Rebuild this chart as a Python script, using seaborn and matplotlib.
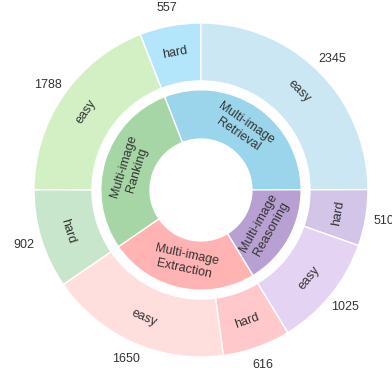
import numpy as np
import matplotlib
matplotlib.use("Agg")
import matplotlib.pyplot as plt
import seaborn as sns

# Task categories (inner ring) and their difficulty split (outer ring)
categories = ["Multi-image\nRetrieval", "Multi-image\nReasoning",
              "Multi-image\nExtraction", "Multi-image\nRanking"]
hard_counts = [557, 510, 616, 902]
easy_counts = [2345, 1025, 1650, 1788]

inner_colors = ["#9ad5eb", "#b9a0d2", "#ffb3b3", "#a6d6a6"]
hard_colors = ["#b3e5fb", "#d3c5e8", "#ffc9cc", "#c8e6cb"]
easy_colors = ["#cbe7f4", "#e5d3f3", "#ffdede", "#d3f0c5"]

sns.set_theme(style="white")
plt.rcParams["font.family"] = ["Liberation Sans", "DejaVu Sans"]
text_color = "#333333"

outer_vals, outer_labels, outer_colors = [], [], []
for h, e, hc, ec in zip(hard_counts, easy_counts, hard_colors, easy_colors):
    outer_vals += [h, e]
    outer_labels += ["hard", "easy"]
    outer_colors += [hc, ec]
inner_vals = [h + e for h, e in zip(hard_counts, easy_counts)]

total = sum(inner_vals)
start = 90 + hard_counts[0] / total * 360

fig = plt.figure(figsize=(3.92, 3.76), dpi=100)
ax = fig.add_axes([0.0015, -0.0383, 1.0224, 1.066])

wp = dict(edgecolor="white", linewidth=1)
outer_wedges, _ = ax.pie(outer_vals, radius=1.0, colors=outer_colors,
                         startangle=start, counterclock=False,
                         wedgeprops=dict(width=0.347, **wp))
inner_wedges, _ = ax.pie(inner_vals, radius=0.6, colors=inner_colors,
                         startangle=start, counterclock=False,
                         wedgeprops=dict(width=0.295, **wp))
ax.set_xlim(-1.2, 1.2)
ax.set_ylim(-1.2, 1.2)
ax.set_aspect("equal")
ax.axis("off")


def upright(angle):
    a = (angle + 180) % 360 - 180
    return a - 90 if np.sin(np.deg2rad(a)) >= 0 else a + 90


for w, lab, val in zip(outer_wedges, outer_labels, outer_vals):
    mid = (w.theta1 + w.theta2) / 2
    rad = np.deg2rad(mid)
    ax.text(0.835 * np.cos(rad), 0.835 * np.sin(rad), lab,
            rotation=upright(mid), rotation_mode="anchor",
            ha="center", va="center", fontsize=9, color=text_color)
    ax.text(1.11 * np.cos(rad), 1.11 * np.sin(rad), str(val),
            ha="center", va="center", fontsize=9, color=text_color)

for w, lab in zip(inner_wedges, categories):
    mid = (w.theta1 + w.theta2) / 2
    rad = np.deg2rad(mid)
    ax.text(0.44 * np.cos(rad), 0.44 * np.sin(rad), lab,
            rotation=upright(mid), rotation_mode="anchor",
            ha="center", va="center", fontsize=9, color=text_color,
            multialignment="center", linespacing=1.2)

fig.savefig("out.png", dpi=100)
